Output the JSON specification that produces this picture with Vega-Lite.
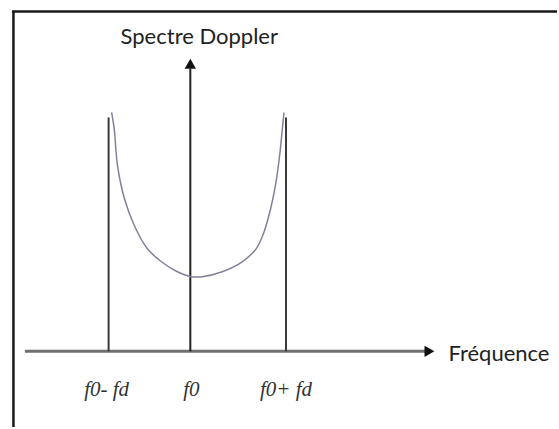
{
  "$schema": "https://vega.github.io/schema/vega-lite/v6.json",
  "width": 559,
  "height": 429,
  "autosize": {"type": "fit", "contains": "padding"},
  "padding": 0,
  "background": "white",
  "config": {"view": {"stroke": null}, "axis": {"disable": true}},
  "datasets": {
    "frame": [
      {"x": -179, "x2": 368, "y": 341.5, "y2": 341.5, "w": "top"},
      {"x": -177.5, "x2": -177.5, "y": -76, "y2": 341.5, "w": "left"}
    ],
    "freqAxis": [{"x": -166, "x2": 236, "y": 0, "y2": 0}],
    "specAxis": [{"x": 0, "x2": 0, "y": 0, "y2": 284}],
    "lines": [
      {"x": -82, "x2": -82, "y": 0, "y2": 235},
      {"x": 96, "x2": 96, "y": 0, "y2": 235}
    ],
    "arrowsRight": [{"x": 240, "y": 0}],
    "arrowsUp": [{"x": 0, "y": 289}],
    "spectrum": [
      {"f": -79, "a": 240},
      {"f": -77, "a": 228},
      {"f": -76, "a": 220},
      {"f": -73, "a": 186},
      {"f": -66, "a": 153},
      {"f": -56, "a": 126},
      {"f": -43, "a": 103},
      {"f": -29, "a": 90},
      {"f": -13, "a": 80},
      {"f": 1, "a": 75},
      {"f": 12, "a": 75},
      {"f": 32, "a": 80},
      {"f": 52, "a": 90},
      {"f": 66, "a": 103},
      {"f": 74, "a": 120},
      {"f": 81, "a": 145},
      {"f": 86, "a": 170},
      {"f": 90, "a": 200},
      {"f": 92, "a": 220},
      {"f": 93, "a": 230},
      {"f": 94, "a": 240}
    ],
    "title": [{"x": 9, "y": 316, "t": "Spectre Doppler"}],
    "xlabel": [{"x": 259, "y": -3, "t": "Fréquence"}],
    "ticks": [
      {"x": -84, "y": -39, "t": "f0- fd"},
      {"x": 1, "y": -39, "t": "f0"},
      {"x": 96, "y": -39, "t": "f0+ fd"}
    ]
  },
  "layer": [
    {
      "data": {"name": "frame"},
      "mark": {"type": "rule", "color": "#1a1a1a", "strokeWidth": 2.5},
      "encoding": {
        "x": {"field": "x", "type": "quantitative", "scale": {"domain": [-191, 368], "nice": false, "zero": false}},
        "x2": {"field": "x2"},
        "y": {"field": "y", "type": "quantitative", "scale": {"domain": [-76, 353], "nice": false, "zero": false}},
        "y2": {"field": "y2"}
      }
    },
    {
      "data": {"name": "freqAxis"},
      "mark": {"type": "rule", "color": "#707070", "strokeWidth": 3},
      "encoding": {
        "x": {"field": "x", "type": "quantitative"},
        "x2": {"field": "x2"},
        "y": {"field": "y", "type": "quantitative"},
        "y2": {"field": "y2"}
      }
    },
    {
      "data": {"name": "specAxis"},
      "mark": {"type": "rule", "color": "#222222", "strokeWidth": 2},
      "encoding": {
        "x": {"field": "x", "type": "quantitative"},
        "x2": {"field": "x2"},
        "y": {"field": "y", "type": "quantitative"},
        "y2": {"field": "y2"}
      }
    },
    {
      "data": {"name": "lines"},
      "mark": {"type": "rule", "color": "#3a3a3a", "strokeWidth": 2},
      "encoding": {
        "x": {"field": "x", "type": "quantitative"},
        "x2": {"field": "x2"},
        "y": {"field": "y", "type": "quantitative"},
        "y2": {"field": "y2"}
      }
    },
    {
      "data": {"name": "arrowsRight"},
      "mark": {"type": "point", "shape": "triangle-right", "filled": true, "color": "#111111", "size": 130, "opacity": 1},
      "encoding": {
        "x": {"field": "x", "type": "quantitative"},
        "y": {"field": "y", "type": "quantitative"}
      }
    },
    {
      "data": {"name": "arrowsUp"},
      "mark": {"type": "point", "shape": "triangle-up", "filled": true, "color": "#111111", "size": 130, "opacity": 1},
      "encoding": {
        "x": {"field": "x", "type": "quantitative"},
        "y": {"field": "y", "type": "quantitative"}
      }
    },
    {
      "data": {"name": "spectrum"},
      "mark": {"type": "line", "color": "#80809c", "strokeWidth": 1.5, "interpolate": "catmull-rom"},
      "encoding": {
        "x": {"field": "f", "type": "quantitative"},
        "y": {"field": "a", "type": "quantitative"},
        "order": {"field": "f"}
      }
    },
    {
      "data": {"name": "title"},
      "mark": {"type": "text", "font": "Lato", "fontSize": 22, "color": "#222222", "align": "center", "baseline": "middle"},
      "encoding": {
        "x": {"field": "x", "type": "quantitative"},
        "y": {"field": "y", "type": "quantitative"},
        "text": {"field": "t"}
      }
    },
    {
      "data": {"name": "xlabel"},
      "mark": {"type": "text", "font": "Lato", "fontSize": 22, "color": "#222222", "align": "left", "baseline": "middle"},
      "encoding": {
        "x": {"field": "x", "type": "quantitative"},
        "y": {"field": "y", "type": "quantitative"},
        "text": {"field": "t"}
      }
    },
    {
      "data": {"name": "ticks"},
      "mark": {"type": "text", "font": "Liberation Serif", "fontStyle": "italic", "fontSize": 21, "color": "#333333", "align": "center", "baseline": "middle"},
      "encoding": {
        "x": {"field": "x", "type": "quantitative"},
        "y": {"field": "y", "type": "quantitative"},
        "text": {"field": "t"}
      }
    }
  ]
}
